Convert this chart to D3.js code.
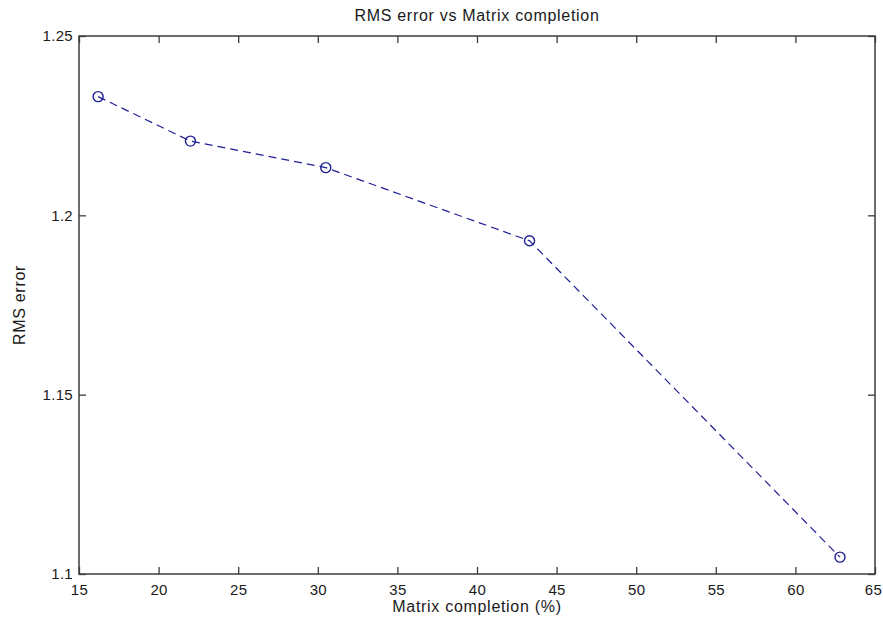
<!DOCTYPE html>
<html>
<head>
<meta charset="utf-8">
<script src="https://cdn.jsdelivr.net/npm/d3@7"></script>
<style>
  html, body { margin: 0; padding: 0; background: #fff; }
  svg text { font-family: "Liberation Sans", Arial, sans-serif; font-size: 16px; letter-spacing: 0.7px; fill: #1a1a1a; }
  svg .tick text { font-size: 15px; letter-spacing: 0.3px; }
</style>
</head>
<body>
<svg id="chart" width="883" height="624"></svg>
<script>
// Matrix completion (%) against RMS error
const completion = [16.2, 22.0, 30.5, 43.3, 62.8];
const rmsError = [1.2331, 1.2207, 1.2133, 1.1929, 1.1047];
const xTicks = [15, 20, 25, 30, 35, 40, 45, 50, 55, 60, 65];
const yTicks = [1.1, 1.15, 1.2, 1.25];
const yTickLabels = ["1.1", "1.15", "1.2", "1.25"];
const titleText = "RMS error vs Matrix completion";
const xLabelText = "Matrix completion (%)";
const yLabelText = "RMS error";

const svg = d3.select("#chart");
const margin = { left: 79, top: 36, right: 8, bottom: 50 };
const W = 883, H = 624;
const x = d3.scaleLinear().domain([15, 65]).range([margin.left, W - margin.right]);
const y = d3.scaleLinear().domain([1.1, 1.25]).range([H - margin.bottom, margin.top]);

const axisColor = "#3c3c3c";
const lineColor = "#1f1f96";
const tickLen = 7;

// box frame
svg.append("rect")
  .attr("x", x(15)).attr("y", y(1.25))
  .attr("width", x(65) - x(15)).attr("height", y(1.1) - y(1.25))
  .attr("fill", "none").attr("stroke", axisColor).attr("stroke-width", 1.5);

// inward ticks on all four sides
const tickStyle = sel => sel.call(g => g.select(".domain").remove())
  .call(g => g.selectAll(".tick line").attr("stroke", axisColor).attr("stroke-width", 1.3));
const plainText = g => g.selectAll("text").attr("font-size", null).attr("font-family", null).attr("fill", null);

svg.append("g").attr("transform", `translate(0,${y(1.1)})`)
  .call(d3.axisBottom(x).tickValues(xTicks).tickSize(-tickLen).tickPadding(10).tickFormat(d3.format("d")))
  .call(tickStyle)
  .call(plainText)
  .call(g => g.selectAll("text").filter(d => d === 65).attr("dx", "-2"));

svg.append("g").attr("transform", `translate(0,${y(1.25)})`)
  .call(d3.axisTop(x).tickValues(xTicks).tickSize(-tickLen).tickFormat(""))
  .call(tickStyle);

svg.append("g").attr("transform", `translate(${x(15)},0)`)
  .call(d3.axisLeft(y).tickValues(yTicks).tickSize(-tickLen).tickPadding(6)
    .tickFormat((d, i) => yTickLabels[i]))
  .call(tickStyle)
  .call(plainText);

svg.append("g").attr("transform", `translate(${x(65)},0)`)
  .call(d3.axisRight(y).tickValues(yTicks).tickSize(-tickLen).tickFormat(""))
  .call(tickStyle);

// data line
const line = d3.line().x((d, i) => x(completion[i])).y(d => y(d));
svg.append("path")
  .datum(rmsError)
  .attr("d", line)
  .attr("fill", "none")
  .attr("stroke", lineColor)
  .attr("stroke-width", 1.2)
  .attr("stroke-dasharray", "8,5");

svg.selectAll("circle.pt")
  .data(rmsError)
  .enter().append("circle")
  .attr("class", "pt")
  .attr("cx", (d, i) => x(completion[i]))
  .attr("cy", d => y(d))
  .attr("r", 5)
  .attr("fill", "none")
  .attr("stroke", lineColor)
  .attr("stroke-width", 1.4);

// title and axis labels
const cx = (x(15) + x(65)) / 2;
svg.append("text").attr("x", cx).attr("y", 21).attr("text-anchor", "middle").text(titleText);
svg.append("text").attr("x", cx).attr("y", 612).attr("text-anchor", "middle").text(xLabelText);
svg.append("text")
  .attr("transform", `translate(25,${(y(1.1) + y(1.25)) / 2}) rotate(-90)`)
  .attr("text-anchor", "middle").text(yLabelText);
</script>
</body>
</html>
